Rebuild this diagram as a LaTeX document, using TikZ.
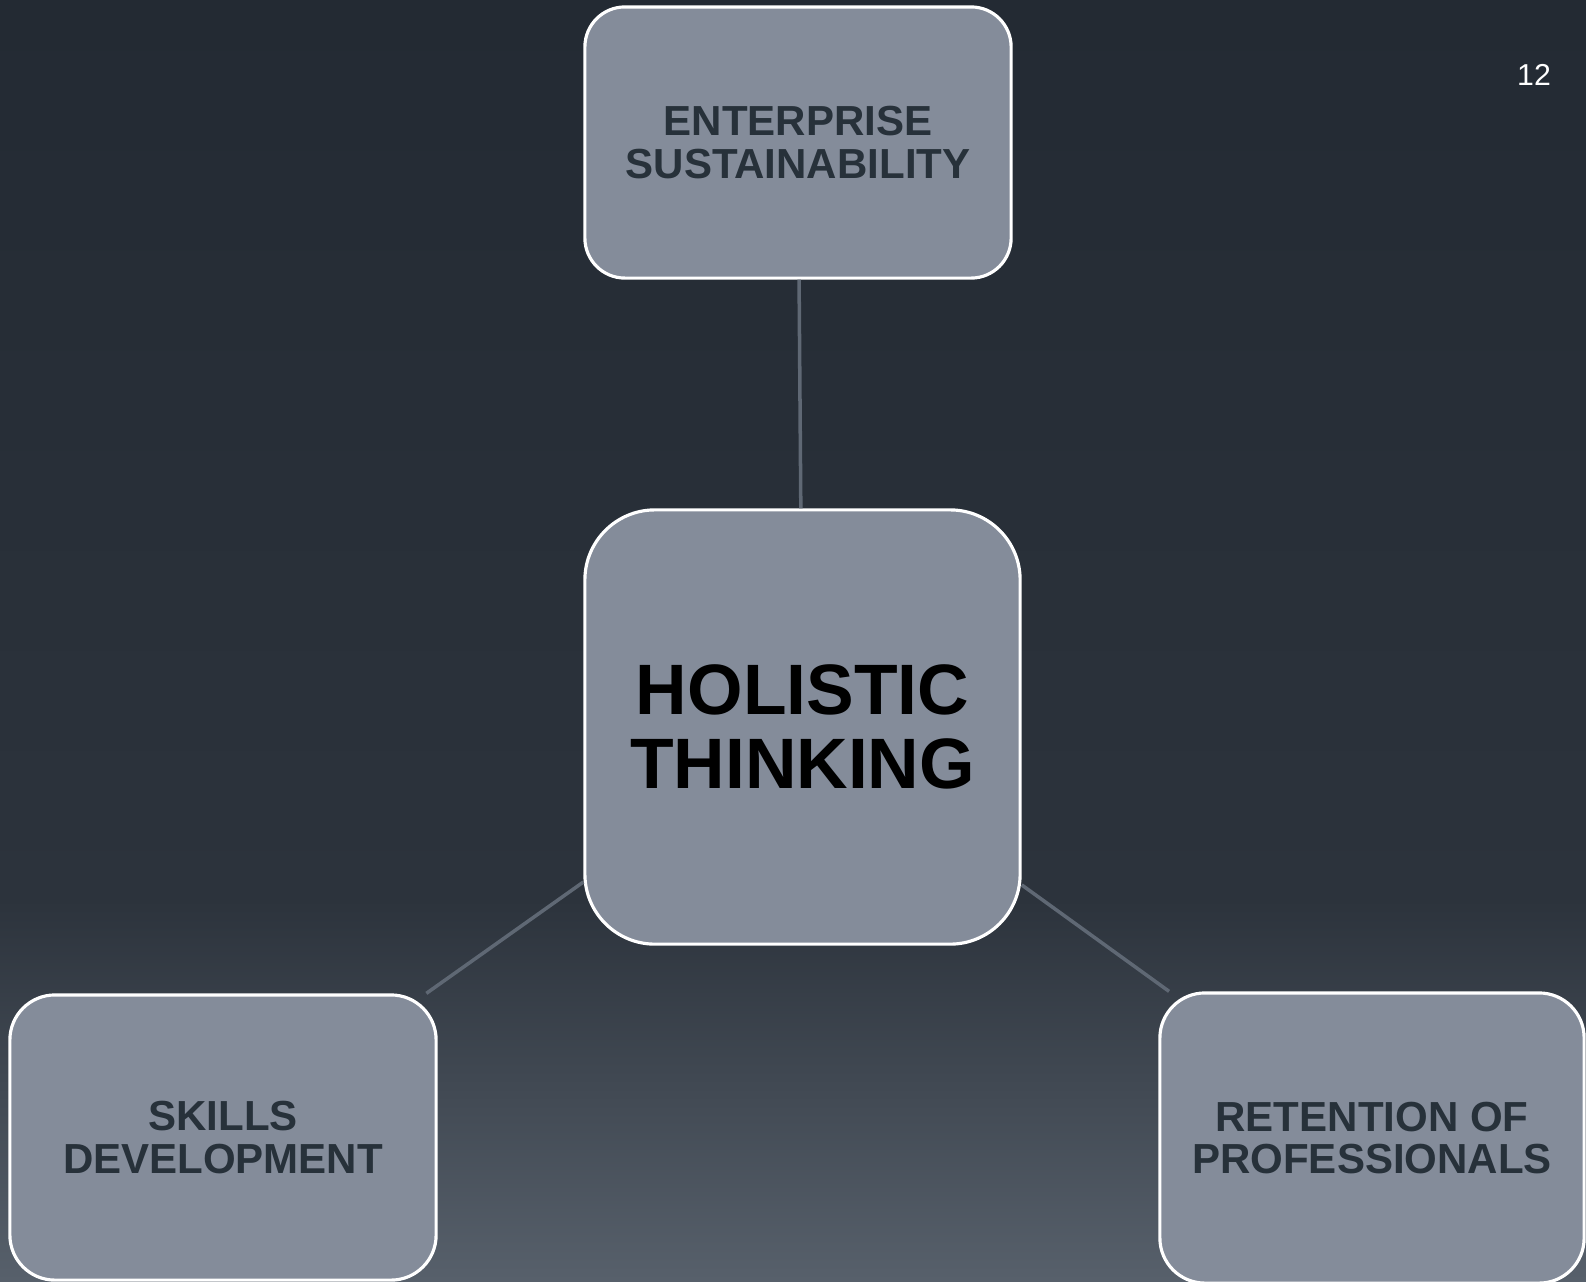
\documentclass[tikz,border=0pt]{standalone}
\usepackage{fontspec}
\setmainfont{Liberation Sans}
\usepackage{xcolor}
\definecolor{bgtop}{HTML}{232A33}
\definecolor{bgmid}{HTML}{2C333C}
\definecolor{bgbot}{HTML}{57606B}
\definecolor{boxgray}{HTML}{848C9A}
\definecolor{textdark}{HTML}{27313A}
\definecolor{linkgray}{HTML}{5F6874}
\usepackage{tikz}

\begin{document}
\begin{tikzpicture}[
        x=0.01cm, y=-0.01cm,
        topic/.style={
            rectangle,
            draw=white,
            line width=0.9pt,
            fill=boxgray,
            inner sep=0pt,
            align=center,
            text=textdark,
            font=\fontsize{11.95}{12.2}\selectfont\bfseries
        },
        hub/.style={
            topic,
            minimum width=4.35cm,
            minimum height=4.34cm,
            rounded corners=0.7cm,
            text=black,
            font=\fontsize{20.3}{21}\selectfont\bfseries
        },
        link/.style={line width=1pt, color=linkgray}
    ]
        % background
        \useasboundingbox (0,0) rectangle (1586,1281);
        \shade[top color=bgtop, bottom color=bgmid] (0,0) rectangle (1586,900);
        \shade[top color=bgmid, bottom color=bgbot] (0,899) rectangle (1586,1281);

        \node[hub] (holistic) at (802.5,727) {HOLISTIC\\THINKING};
        \node[topic, minimum width=4.26cm, minimum height=2.71cm, rounded corners=0.4cm]
            (enterprise) at (798,142.5) {ENTERPRISE\\SUSTAINABILITY};
        \node[topic, minimum width=4.26cm, minimum height=2.85cm, rounded corners=0.45cm]
            (skills) at (223,1137.5) {SKILLS\\DEVELOPMENT};
        \node[topic, minimum width=4.24cm, minimum height=2.9cm, rounded corners=0.45cm]
            (retention) at (1372,1138) {RETENTION OF\\PROFESSIONALS};

        \node[anchor=base, text=white, font=\fontsize{8.6}{10}\selectfont] (pagenum) at (1534,85) {12};

        \draw[link] (enterprise) -- (holistic);
        \draw[link] (holistic) -- (skills);
        \draw[link] (holistic) -- (retention);

    \end{tikzpicture}
\end{document}
